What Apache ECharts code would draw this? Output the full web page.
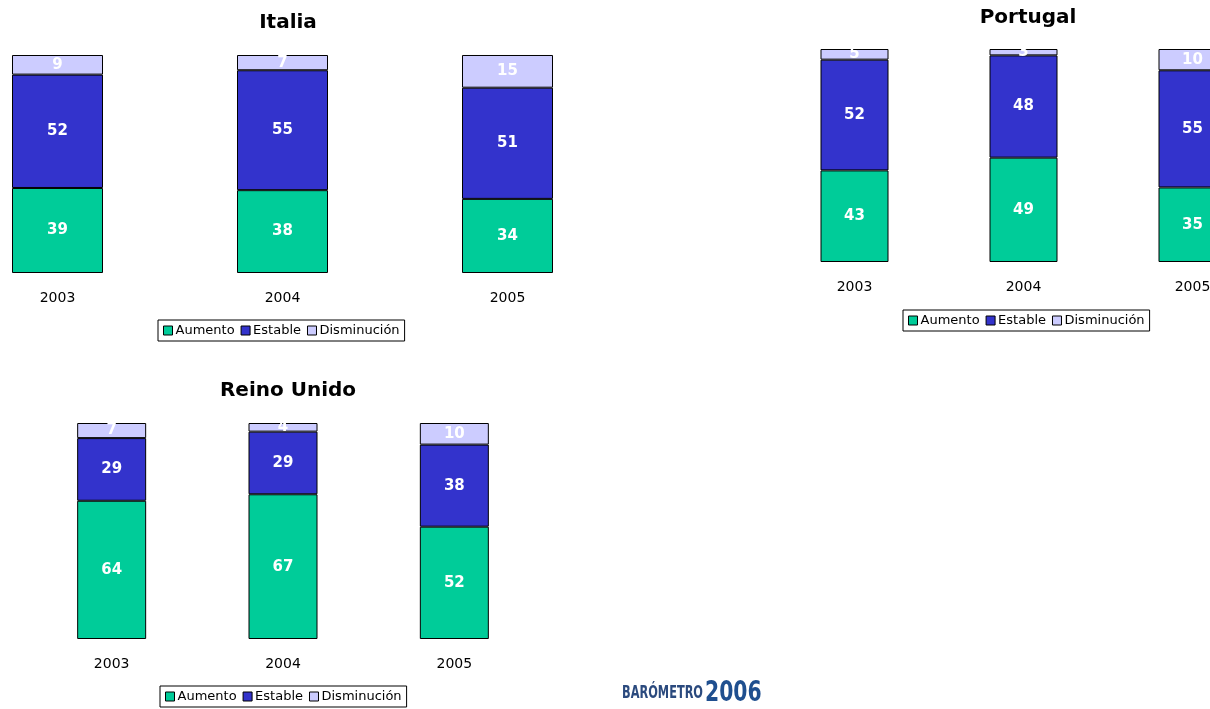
<!DOCTYPE html>
<html>
<head>
<meta charset="utf-8">
<script src="https://cdn.jsdelivr.net/npm/echarts@6/dist/echarts.min.js"></script>
<style>
  html, body { margin: 0; padding: 0; background: #fff; }
  #main { width: 1210px; height: 709px; }
</style>
</head>
<body>
<div id="main"></div>
<script>
// datos por pais (porcentajes)
const years = ['2003', '2004', '2005'];
const seriesNames = ['Aumento', 'Estable', 'Disminución'];

const italiaAumento = [39, 38, 34];
const italiaEstable = [52, 55, 51];
const italiaDisminucion = [9, 7, 15];

const portugalAumento = [43, 49, 35];
const portugalEstable = [52, 48, 55];
const portugalDisminucion = [5, 3, 10];

const reinoAumento = [64, 67, 52];
const reinoEstable = [29, 29, 38];
const reinoDisminucion = [7, 4, 10];

const colors = ['#00CC99', '#3333CC', '#CCCCFF'];
const font = 'Verdana, "DejaVu Sans", sans-serif';

let chart = echarts.init(document.getElementById('main'));

function barSeries(name, data, idx, stack, width, color) {
    return {
        name: name,
        type: 'bar',
        stack: stack,
        xAxisIndex: idx,
        yAxisIndex: idx,
        barWidth: width,
        data: data,
        itemStyle: {color: color, borderColor: '#000', borderWidth: 1},
        label: {
            show: true,
            position: 'inside',
            color: '#fff',
            fontWeight: 'bold',
            fontSize: 15,
            fontFamily: font
        },
        emphasis: {disabled: true}
    };
}

function xAxis(idx) {
    return {
        type: 'category',
        gridIndex: idx,
        data: years,
        axisLine: {show: false},
        axisTick: {show: false},
        axisLabel: {color: '#000', fontSize: 14, fontFamily: font, margin: 18}
    };
}

function yAxis(idx) {
    return {type: 'value', gridIndex: idx, min: 0, max: 100, show: false, splitLine: {show: false}};
}

function legend(left, top) {
    return {
        left: left,
        top: top,
        data: seriesNames,
        icon: 'rect',
        itemWidth: 9,
        itemHeight: 9,
        itemGap: 6,
        padding: [4, 5],
        borderColor: '#000',
        borderWidth: 1,
        selectedMode: false,
        itemStyle: {borderColor: '#000', borderWidth: 1},
        textStyle: {fontSize: 13, color: '#000', fontFamily: font, padding: [0, 0, 0, -2]}
    };
}

let option = {
    animation: false,
    color: colors,
    title: [
        {text: 'Italia', left: 283, top: 8, textAlign: 'center',
            textStyle: {fontSize: 20, fontWeight: 'bold', fontFamily: font, color: '#000'}},
        {text: 'Portugal', left: 1023, top: 3, textAlign: 'center',
            textStyle: {fontSize: 20, fontWeight: 'bold', fontFamily: font, color: '#000'}},
        {text: 'Reino Unido', left: 283, top: 376, textAlign: 'center',
            textStyle: {fontSize: 20, fontWeight: 'bold', fontFamily: font, color: '#000'}}
    ],
    legend: [legend(158, 320), legend(903, 310), legend(160, 686)],
    // outerBoundsMode none: las rejillas pueden salirse del lienzo como en el original
    grid: [
        {left: -55, top: 55, width: 675, height: 218, outerBoundsMode: 'none'},
        {left: 770, top: 49, width: 507, height: 213, outerBoundsMode: 'none'},
        {left: 26, top: 423, width: 514, height: 216, outerBoundsMode: 'none'}
    ],
    xAxis: [xAxis(0), xAxis(1), xAxis(2)],
    yAxis: [yAxis(0), yAxis(1), yAxis(2)],
    series: [
        barSeries('Aumento', italiaAumento, 0, 'it', 91, colors[0]),
        barSeries('Estable', italiaEstable, 0, 'it', 91, colors[1]),
        barSeries('Disminución', italiaDisminucion, 0, 'it', 91, colors[2]),
        barSeries('Aumento', portugalAumento, 1, 'pt', 68, colors[0]),
        barSeries('Estable', portugalEstable, 1, 'pt', 68, colors[1]),
        barSeries('Disminución', portugalDisminucion, 1, 'pt', 68, colors[2]),
        barSeries('Aumento', reinoAumento, 2, 'uk', 69, colors[0]),
        barSeries('Estable', reinoEstable, 2, 'uk', 69, colors[1]),
        barSeries('Disminución', reinoDisminucion, 2, 'uk', 69, colors[2])
    ],
    graphic: [
        {type: 'text', x: 703, y: 684, scaleX: 0.7,
            style: {text: 'BARÓMETRO', fill: '#2b4a7e', align: 'right',
                font: 'bold 18px "DejaVu Sans Condensed", sans-serif'}},
        {type: 'text', x: 705, y: 679, scaleX: 0.78,
            style: {text: '2006', fill: '#1f4f8f', align: 'left',
                font: 'bold 29px "DejaVu Sans Condensed", sans-serif'}}
    ]
};

chart.setOption(option);
window.addEventListener('resize', () => {
    chart.resize();
});
</script>
</body>
</html>
